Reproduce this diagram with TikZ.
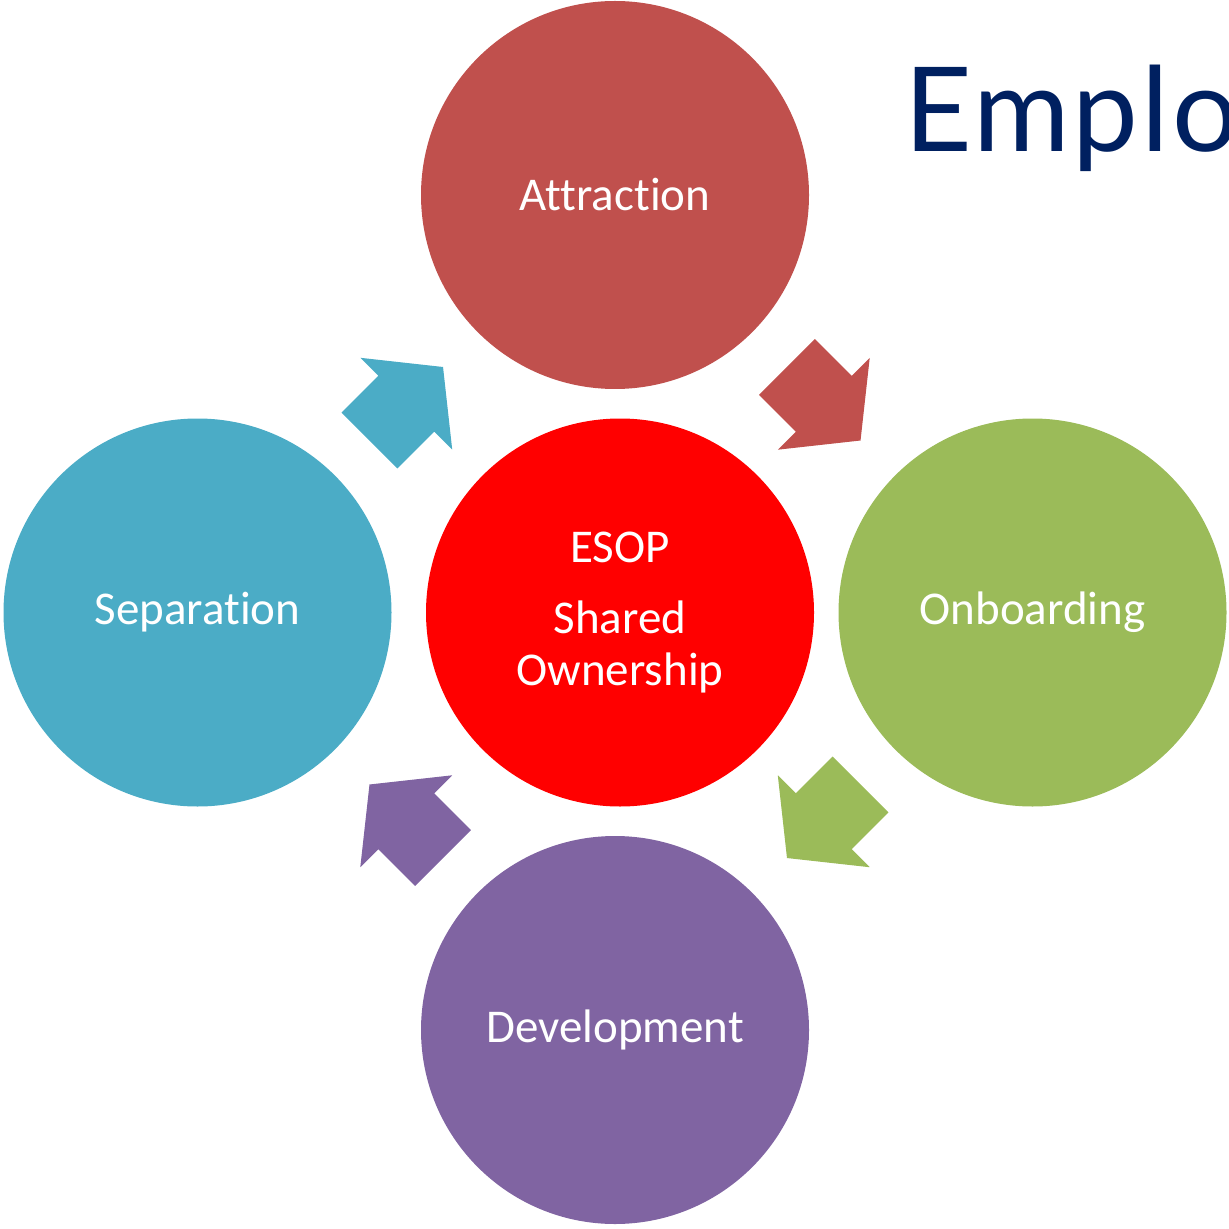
\documentclass[tikz,border=0pt]{standalone}
\usepackage{fontspec}
\setmainfont{Carlito}[Ligatures=NoCommon]
\newfontfamily\titlefont{Lato}[LetterSpace=2.4]
\usetikzlibrary{calc}
\usepackage{xcolor}

\definecolor{attrred}{HTML}{C0504D}
\definecolor{onbgreen}{HTML}{9BBB59}
\definecolor{devpurple}{HTML}{8064A2}
\definecolor{sepblue}{HTML}{4BACC6}
\definecolor{esopred}{HTML}{FF0000}
\definecolor{titlenavy}{HTML}{002060}

\tikzset{
  phase/.style={circle, minimum size=194pt, inner sep=0pt, text=white,
    font=\fontsize{23.5}{26}\selectfont, align=center},
}

% block arrow: centre, angle, colour
\newcommand{\cyclearrow}[3]{%
  \fill[#3, shift={#1}, rotate=#2] (-52,-39.5) -- (0,-39.5) -- (0,-65) -- (52,0)
    -- (0,65) -- (0,39.5) -- (-52,39.5) -- cycle;
}

\begin{document}
\begin{tikzpicture}[x=0.5pt, y=0.5pt]
            \useasboundingbox (0,0) rectangle (1229,1228);
            \clip (0,0) rectangle (1229,1228);

            \node[phase, fill=attrred] (attr) at (615,1033) {Attraction};
            \node[phase, fill=onbgreen] (onb) at (1032.5,615.5) {Onboarding};
            \node[phase, fill=devpurple] (dev) at (615,198) {Development};
            \node[phase, fill=sepblue] (sep) at (197.5,615.5) {Separation};
            \node[phase, fill=esopred] (esop) at (620,615.5) {ESOP\\[9.5pt]Shared\\Ownership};

            \cyclearrow{($(attr)!0.5!(onb)$)}{-45}{attrred}
            \cyclearrow{($(onb)!0.5!(dev)$)}{-135}{onbgreen}
            \cyclearrow{($(dev)!0.5!(sep)$)}{135}{devpurple}
            \cyclearrow{($(sep)!0.5!(attr)$)}{45}{sepblue}

            % heading, cut off at the right edge
            \node[anchor=base west, inner sep=0pt, text=titlenavy,
              font=\titlefont\fontsize{58.7}{60}\selectfont] (title) at (904,1076) {Emplo};
        \end{tikzpicture}
\end{document}
